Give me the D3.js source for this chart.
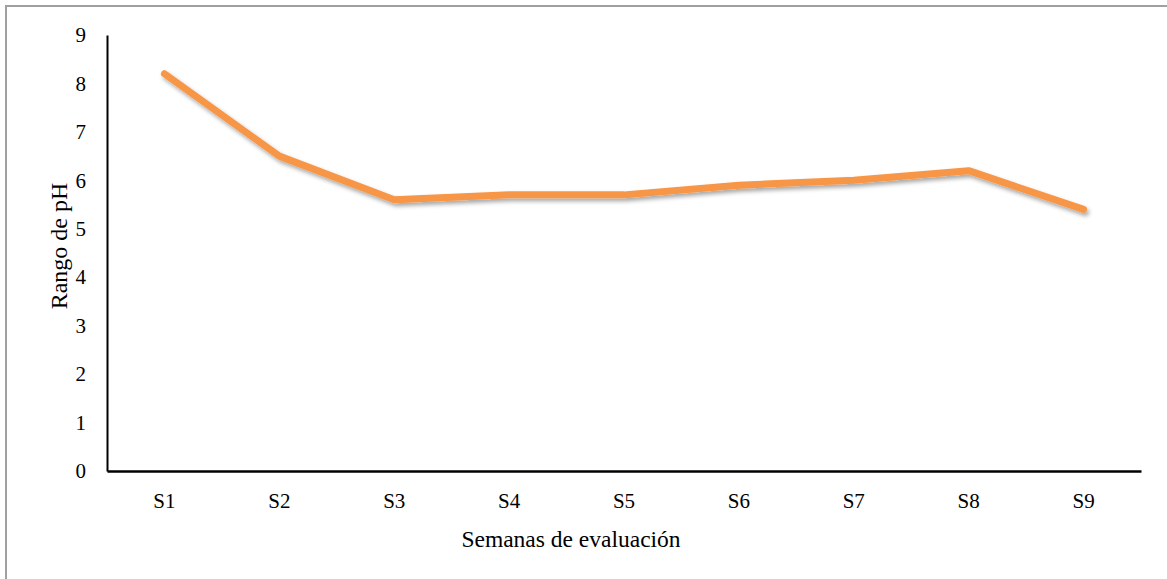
<!DOCTYPE html>
<html>
<head>
<meta charset="utf-8">
<script src="https://cdn.jsdelivr.net/npm/d3@7"></script>
<style>
  body { margin: 0; background: #fff; }
  svg { display: block; }
  text { font-family: "Liberation Serif", "Times New Roman", serif; fill: #000; }
</style>
</head>
<body>
<svg width="1167" height="579"></svg>
<script>
var semanas = ['S1', 'S2', 'S3', 'S4', 'S5', 'S6', 'S7', 'S8', 'S9']
var ph = [8.2, 6.5, 5.6, 5.7, 5.7, 5.9, 6.0, 6.2, 5.4]
var yTicks = [0, 1, 2, 3, 4, 5, 6, 7, 8, 9]

var margin = {top: 35, right: 26, bottom: 108, left: 107}
var width = 1167 - margin.left - margin.right
var height = 579 - margin.top - margin.bottom

var svg = d3.select('svg')

// outer frame (top and left edges only show in the picture)
svg.append('path')
  .attr('d', 'M6,579V6H1167')
  .attr('fill', 'none')
  .attr('stroke', '#a0a0a0')
  .attr('stroke-width', 2)

var defs = svg.append('defs')
defs.append('filter')
  .attr('id', 'shadow')
  .attr('x', '-10%').attr('y', '-10%')
  .attr('width', '120%').attr('height', '140%')
  .append('feDropShadow')
  .attr('dx', 2).attr('dy', 3)
  .attr('stdDeviation', 2)
  .attr('flood-color', '#000')
  .attr('flood-opacity', 0.35)

var x = d3.scaleBand().domain(semanas).range([0, width]).padding(0)
var y = d3.scaleLinear().domain([0, 9]).range([height, 0])

var g = svg.append('g')
  .attr('transform', 'translate(' + margin.left + ',' + margin.top + ')')

var yAxis = g.append('g')
  .call(d3.axisLeft(y).tickValues(yTicks).tickSize(0).tickPadding(21))
yAxis.attr('font-family', null).attr('font-size', null)
yAxis.select('.domain').attr('stroke', '#000').attr('stroke-width', 2)
yAxis.selectAll('text').style('font-size', '21px')

var xAxis = g.append('g')
  .attr('transform', 'translate(0,' + height + ')')
  .call(d3.axisBottom(x).tickSize(0).tickPadding(22))
xAxis.attr('font-family', null).attr('font-size', null)
xAxis.select('.domain').attr('stroke', '#000').attr('stroke-width', 2.5)
xAxis.selectAll('text').style('font-size', '21px')

var line = d3.line()
  .x(function (d, i) { return x(semanas[i]) + x.bandwidth() / 2 })
  .y(function (d) { return y(d) })

g.append('path')
  .datum(ph)
  .attr('d', line)
  .attr('fill', 'none')
  .attr('stroke', '#f79646')
  .attr('stroke-width', 7)
  .attr('stroke-linecap', 'round')
  .attr('stroke-linejoin', 'round')
  .attr('filter', 'url(#shadow)')

svg.append('text')
  .attr('transform', 'translate(67,246) rotate(-90)')
  .attr('text-anchor', 'middle')
  .style('font-size', '24px')
  .text('Rango de pH')

svg.append('text')
  .attr('x', 571)
  .attr('y', 547)
  .attr('text-anchor', 'middle')
  .style('font-size', '23.5px')
  .text('Semanas de evaluación')
</script>
</body>
</html>
